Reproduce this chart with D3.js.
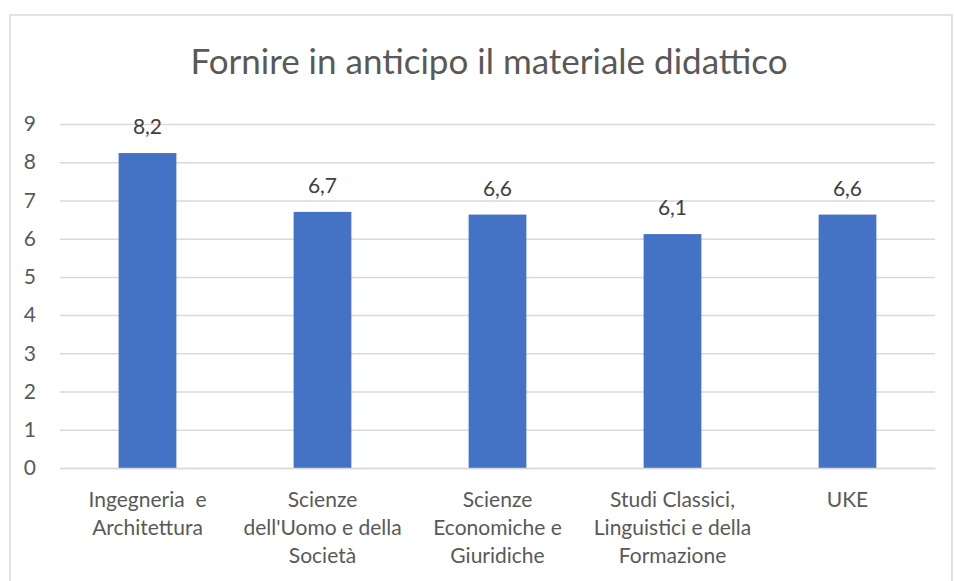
<!DOCTYPE html>
<html><head><meta charset="utf-8">
<script src="https://cdn.jsdelivr.net/npm/d3@7"></script>
<style>body{margin:0;background:#fff}svg{display:block}text{font-family:Lato,"Open Sans",sans-serif}</style>
</head><body>
<script>
const title = "Fornire in anticipo il materiale didattico";
const categories = ["Ingegneria  e\nArchitettura", "Scienze\ndell'Uomo e della\nSocietà", "Scienze\nEconomiche e\nGiuridiche", "Studi Classici,\nLinguistici e della\nFormazione", "UKE"];
const values = [8.24, 6.7, 6.63, 6.12, 6.63];
const yTicks = [0,1,2,3,4,5,6,7,8,9];

const W = 954, H = 581;
const svg = d3.select("body").append("svg").attr("width", W).attr("height", H);
svg.append("rect").attr("x", 10).attr("y", 15).attr("width", 942).attr("height", 600)
  .attr("fill", "#fff").attr("stroke", "#d9d9d9").attr("stroke-width", 1.5);

const m = {left: 60, right: 935, top: 124, bottom: 468};
const x = d3.scaleBand().domain(categories).range([m.left, m.right]).paddingInner(0.67).paddingOuter(0.335);
const y = d3.scaleLinear().domain([0, 9]).range([m.bottom, m.top]);

svg.append("text").attr("x", 489).attr("y", 74).attr("text-anchor", "middle")
  .attr("font-size", 35).attr("fill", "#595959").text(title);

const yAxis = d3.axisLeft(y).tickValues(yTicks).tickSize(-(m.right - m.left)).tickPadding(24).tickFormat(d3.format("d"));
const gy = svg.append("g").attr("transform", `translate(${m.left},0)`).call(yAxis);
gy.select(".domain").remove();
gy.selectAll("line").attr("stroke", "#d9d9d9").attr("stroke-width", 1.5);
gy.selectAll("text").attr("fill", "#595959").attr("font-size", 21).attr("font-family", "Lato");

svg.selectAll("rect.bar").data(values).join("rect").attr("class", "bar")
  .attr("x", (d, i) => x(categories[i])).attr("width", x.bandwidth())
  .attr("y", d => y(d)).attr("height", d => y(0) - y(d)).attr("fill", "#4472C4");

const fmt = d => d3.format(".1f")(d).replace(".", ",");
svg.selectAll("text.lbl").data(values).join("text").attr("class", "lbl")
  .attr("x", (d, i) => x(categories[i]) + x.bandwidth() / 2).attr("y", d => y(d) - 19)
  .attr("text-anchor", "middle").attr("font-size", 21).attr("fill", "#404040").text(fmt);

const xAxis = d3.axisBottom(x).tickSize(0).tickFormat("");
const gx = svg.append("g").attr("transform", `translate(0,${m.bottom})`).call(xAxis);
gx.select(".domain").attr("stroke", "#d9d9d9").attr("stroke-width", 1.5);
gx.selectAll(".tick").each(function(d) {
  const t = d3.select(this).append("text").attr("fill", "#595959").attr("font-size", 21)
    .attr("text-anchor", "middle").style("white-space", "pre");
  d.split("\n").forEach((line, k) => {
    t.append("tspan").attr("x", 0).attr("y", 39 + k * 28).text(line);
  });
});
</script>
</body></html>
